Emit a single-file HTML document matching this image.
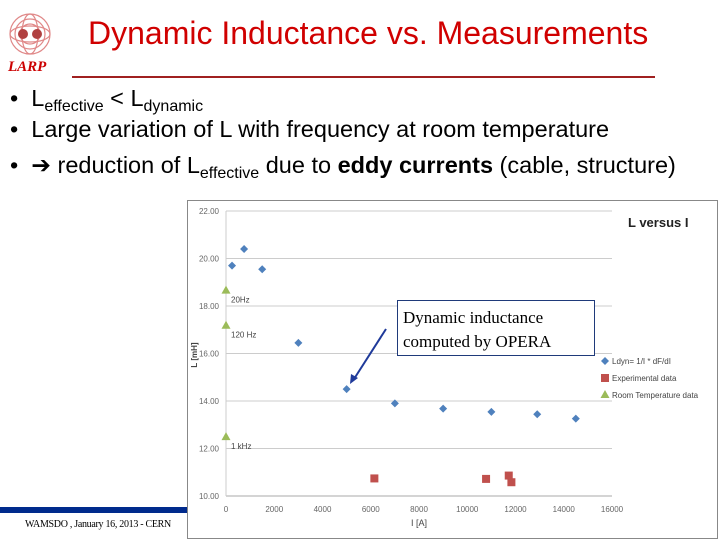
<!DOCTYPE html>
<html><head><meta charset="utf-8"><style>
body{margin:0;width:720px;height:540px;overflow:hidden;background:#fff;font-family:"Liberation Sans",sans-serif;position:relative}
.a{position:absolute}
.b{position:absolute;left:10px;font-size:23.5px;color:#000;white-space:nowrap}
sub{font-size:16px;vertical-align:-5px}
</style></head><body>
<svg class="a" style="left:6px;top:12px" width="48" height="48">
<g fill="none" stroke="#e08888" stroke-width="1.2"><circle cx="24" cy="22" r="20"/><circle cx="24" cy="22" r="15"/><circle cx="24" cy="22" r="10"/><ellipse cx="24" cy="22" rx="20" ry="8"/><ellipse cx="24" cy="22" rx="8" ry="20"/></g>
<circle cx="17" cy="22" r="5" fill="#b04040"/><circle cx="31" cy="22" r="5" fill="#b04040"/></svg>
<div class="a" style="left:8px;top:59px;font-family:'Liberation Serif',serif;font-style:italic;font-weight:bold;color:#c00;font-size:15px">LARP</div>
<div class="a" style="left:88px;top:15px;font-size:32px;color:#d00000;white-space:nowrap">Dynamic Inductance vs. Measurements</div>
<div class="a" style="left:72px;top:76px;width:583px;height:2px;background:#a02020"></div>
<div class="b" style="top:85px">•&nbsp;&nbsp;L<sub>effective</sub> &lt; L<sub>dynamic</sub></div>
<div class="b" style="top:116px">•&nbsp;&nbsp;Large variation of L with frequency at room temperature</div>
<div class="b" style="top:151px">•&nbsp;&nbsp;➔ reduction of L<sub>effective</sub> due to <b>eddy currents</b> (cable, structure)</div>
<div class="a" style="left:0;top:507px;width:187px;height:6px;background:#002a8c"></div>
<div class="a" style="left:25px;top:519px;font-family:'Liberation Serif',serif;font-size:10px;letter-spacing:-0.3px">WAMSDO , January 16, 2013 - CERN</div>
<svg id="ch" class="a" style="left:0;top:0" width="720" height="540"></svg>
<script>
const xTicks=[0,2000,4000,6000,8000,10000,12000,14000,16000];
const yTicks=[10,12,14,16,18,20,22];
const dynI=[250,750,1500,3000,5000,7000,9000,11000,12900,14500];
const dynL=[19.7,20.4,19.55,16.45,14.5,13.9,13.68,13.54,13.44,13.26];
const expI=[6150,10780,11720,11830];
const expL=[10.74,10.72,10.86,10.58];
const rtI=[0,0,0];
const rtL=[18.65,17.17,12.48];
const rtLabels=["20Hz","120 Hz","1 kHz"];
const X=v=>226+v*(612-226)/16000, Y=v=>496-(v-10)*285/12;
const s=document.getElementById('ch');const N='http://www.w3.org/2000/svg';
function el(t,a,p){const e=document.createElementNS(N,t);for(const k in a)e.setAttribute(k,a[k]);(p||s).appendChild(e);return e;}
let f=el('rect',{x:187.5,y:200.5,width:530,height:338,fill:'#fff',stroke:'#888'});


yTicks.forEach(v=>{let g=el('line',{x1:226,x2:612,y1:Y(v),y2:Y(v),stroke:v==10?'#aaa':'#ccc'});


let t=el('text',{x:219,y:Y(v)+3,'text-anchor':'end','font-size':8,fill:'#666'});t.textContent=v.toFixed(2);

});
el('line',{x1:226,x2:226,y1:Y(22),y2:Y(10),stroke:'#ccc'});
xTicks.forEach(v=>{let t=el('text',{x:X(v),y:512,'text-anchor':'middle','font-size':8,fill:'#666'});t.textContent=v;

});
let xt=el('text',{x:419,y:526,'text-anchor':'middle','font-size':9,fill:'#444'});xt.textContent='I [A]';


let yt=el('text',{x:197,y:355,'text-anchor':'middle','font-size':8,'font-weight':'bold',fill:'#444',transform:'rotate(-90 197 355)'});yt.textContent='L [mH]';


let ct=el('text',{x:628,y:227,'font-size':13,'font-weight':'bold',fill:'#222'});ct.textContent='L versus I';


function dia(x,y,p){return el('path',{d:`M${x} ${y-4}L${x+4} ${y}L${x} ${y+4}L${x-4} ${y}Z`,fill:'#4f81bd'},p);}
function sq(x,y,p){return el('rect',{x:x-4,y:y-4,width:8,height:8,fill:'#c0504d'},p);}
function tri(x,y,p){return el('path',{d:`M${x} ${y-5}L${x+4.5} ${y+3}L${x-4.5} ${y+3}Z`,fill:'#9bbb59'},p);}
dynI.forEach((v,i)=>{let m=dia(X(v),Y(dynL[i]));

});
expI.forEach((v,i)=>{let m=sq(X(v),Y(expL[i]));

});
rtI.forEach((v,i)=>{let m=tri(X(v),Y(rtL[i]));


let t=el('text',{x:X(v)+5,y:Y(rtL[i])+12,'font-size':8,fill:'#444'});t.textContent=rtLabels[i];

});
const leg=[['Ldyn= 1/I * dF/dI',dia],['Experimental data',sq],['Room Temperature data',tri]];
leg.forEach((l,i)=>{let y=361+i*17;l[1](605,y);let t=el('text',{x:612,y:y+3,'font-size':8,fill:'#444'});t.textContent=l[0];

});
let bx=el('rect',{x:397.5,y:300.5,width:197,height:55,fill:'#fff',stroke:'#1f3a7a'});


['Dynamic inductance','computed by OPERA'].forEach((s2,i)=>{let t=el('text',{x:403,y:323+i*24,'font-size':17,'font-family':'Liberation Serif,serif'});t.textContent=s2;

});
let ar=el('line',{x1:386,y1:329,x2:354,y2:379,stroke:'#1f3a9a','stroke-width':2});


el('path',{d:'M350 384L351 374L358 378Z',fill:'#1f3a9a'});
</script>
</body></html>
